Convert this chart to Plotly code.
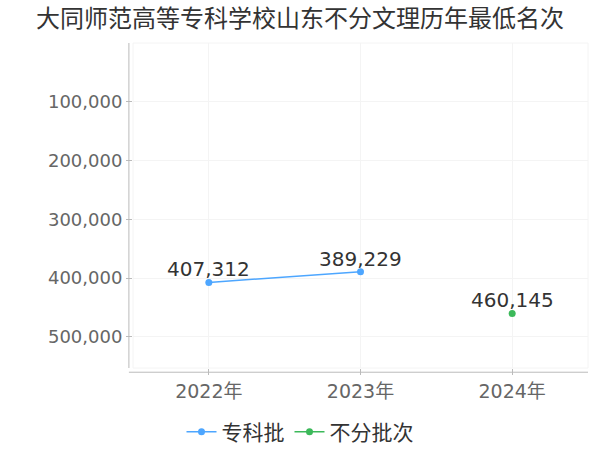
import plotly.graph_objects as go

# Data
years = ["2022年", "2023年", "2024年"]
zhuanke_years = ["2022年", "2023年"]
zhuanke_rank = [407312, 389229]
bufen_years = ["2024年"]
bufen_rank = [460145]

font_family = "DejaVu Sans, Noto Sans CJK SC, sans-serif"

fig = go.Figure()

fig.add_trace(go.Scatter(
    x=zhuanke_years, y=zhuanke_rank, name="专科批",
    mode="lines+markers",
    line=dict(color="#4da6ff", width=1.5),
    marker=dict(size=7, color="#4da6ff"),
))

fig.add_trace(go.Scatter(
    x=bufen_years, y=bufen_rank, name="不分批次",
    mode="lines+markers",
    line=dict(color="#3cb95a", width=1.5),
    marker=dict(size=7, color="#3cb95a"),
))

# value labels sit just above each point
for xs, ys in [(zhuanke_years, zhuanke_rank), (bufen_years, bufen_rank)]:
    for x, y in zip(xs, ys):
        fig.add_annotation(x=x, y=y, text=f"{y:,}", showarrow=False,
                           yanchor="middle", yshift=13,
                           font=dict(size=20, color="#333333"))

fig.update_layout(
    width=600, height=450,
    margin=dict(l=133, r=12, t=43, b=82, autoexpand=False),
    paper_bgcolor="white", plot_bgcolor="white",
    font=dict(family=font_family, color="#666666"),
    title=dict(text="大同师范高等专科学校山东不分文理历年最低名次",
               x=0.5, xanchor="center", xref="container",
               yref="container", y=0.958, yanchor="middle",
               font=dict(size=24, color="#333333")),
    showlegend=True,
    legend=dict(orientation="h", x=0.5, xanchor="center", xref="container",
                yref="container", y=0.04, yanchor="middle",
                font=dict(size=21, color="#333333"), itemwidth=30,
                tracegroupgap=0),
    xaxis=dict(categoryorder="array", categoryarray=years, range=[-0.5, 2.5],
               showgrid=True, gridcolor="#f4f4f4", automargin=False,
               tickfont=dict(size=19, color="#666666"),
               ticks="outside", ticklen=6, tickcolor="#bbbbbb",
               showline=False, zeroline=False),
    yaxis=dict(range=[553000, 0], tickvals=[100000, 200000, 300000, 400000, 500000],
               tickformat=",", showgrid=True, gridcolor="#f4f4f4", automargin=False,
               tickfont=dict(size=18, color="#666666"),
               ticks="outside", ticklen=6, tickcolor="#bbbbbb",
               showline=False, zeroline=False),
)

# faint frame round the plot area
fig.add_shape(type="rect", xref="paper", yref="paper", x0=0, x1=1, y0=0, y1=1,
              line=dict(color="#f4f4f4", width=1), layer="below")

# axis lines drawn slightly off the plot area, as in the reference
fig.add_shape(type="line", xref="paper", yref="paper", x0=-0.009, x1=-0.009, y0=0, y1=1,
              line=dict(color="#bbbbbb", width=1))
fig.add_shape(type="line", xref="paper", yref="paper", x0=-0.009, x1=1, y0=-0.013, y1=-0.013,
              line=dict(color="#bbbbbb", width=1))

# page has a default body margin; remove it so the chart sits at 0,0
fig.write_html("out.html", config={"displayModeBar": False},
               post_script="document.body.style.margin='0px';")
